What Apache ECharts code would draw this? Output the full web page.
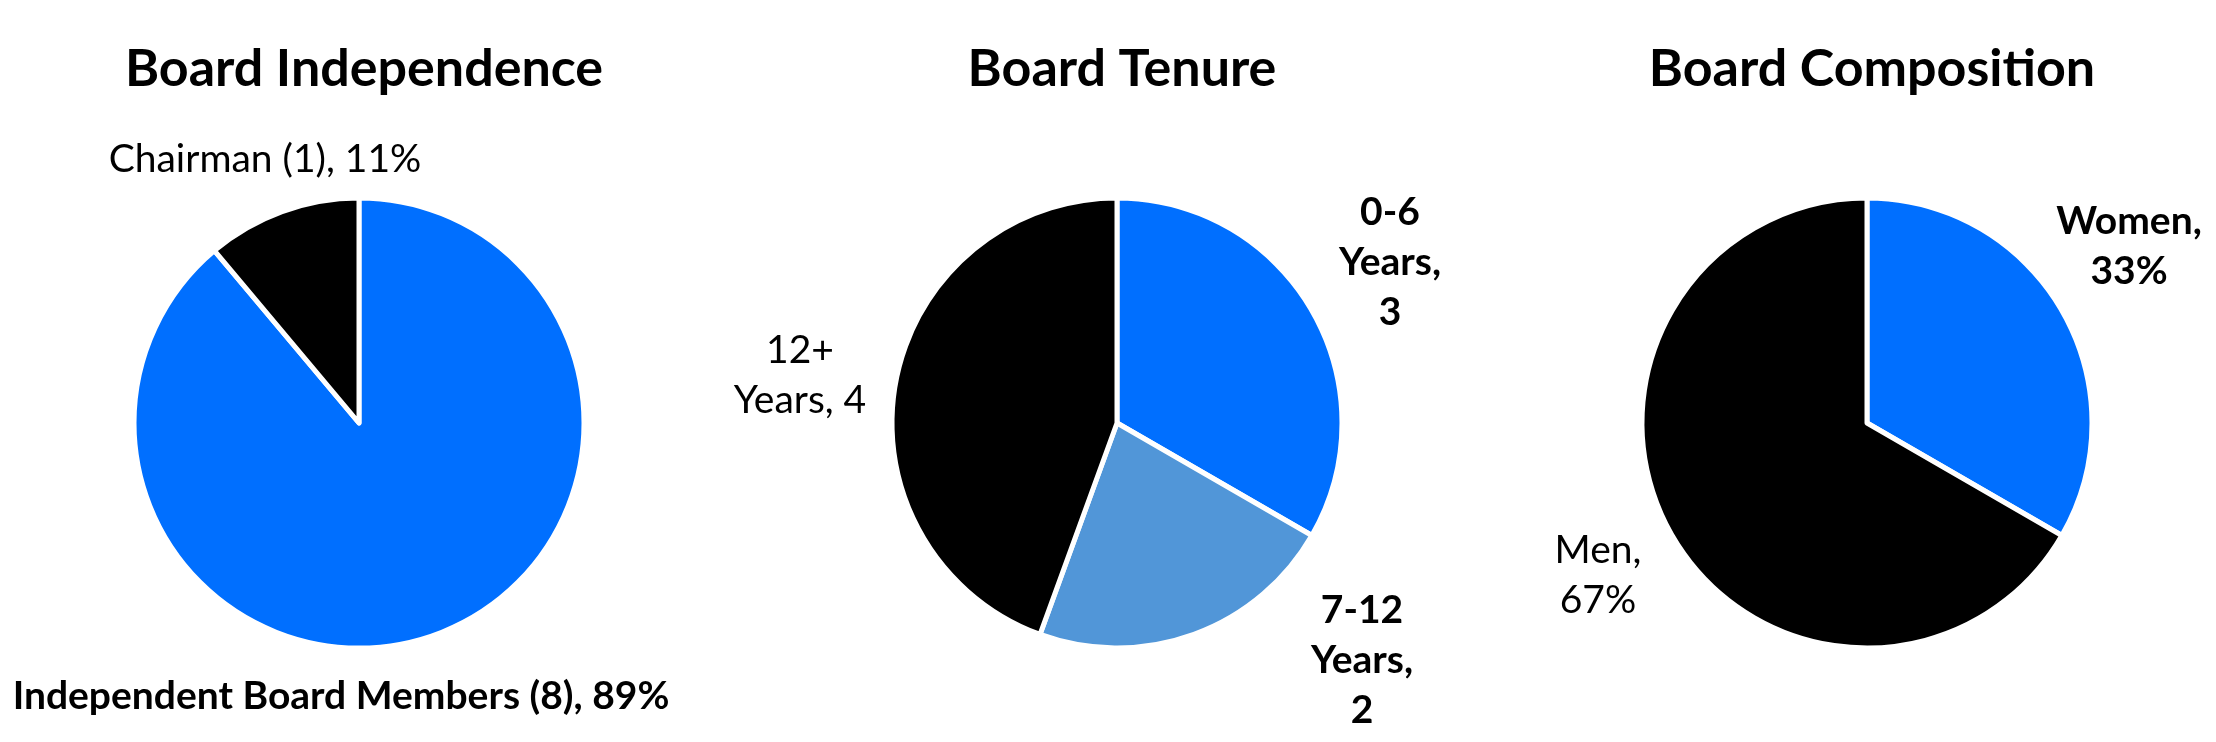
<!DOCTYPE html>
<html>
<head>
<meta charset="utf-8">
<title>Board</title>
<script src="https://cdn.jsdelivr.net/npm/echarts@6/dist/echarts.min.js"></script>
<style>
    html, body { margin: 0; padding: 0; background: #fff; }
    #chart { width: 2216px; height: 742px; }
</style>
</head>
<body>
<div id="chart"></div>
<script>
    // 数据
    var chartTitles = ['Board Independence', 'Board Tenure', 'Board Composition'];

    var independenceNames = ['Independent Board Members (8)', 'Chairman (1)'];
    var independenceValues = [8, 1];

    var tenureNames = ['0-6 Years', '7-12 Years', '12+ Years'];
    var tenureValues = [3, 2, 4];

    var compositionNames = ['Women', 'Men'];
    var compositionValues = [3, 6];

    var BLUE = '#006fff';
    var LIGHT_BLUE = '#5196d8';
    var BLACK = '#000000';
    var FONT = 'Lato';

    // label 中心点位置（每个饼图各一组）
    var labelPos = [
        [[341, 696], [265, 159]],
        [[1390, 262], [1362, 660], [800, 375]],
        [[2129, 246], [1598, 575]]
    ];
    var centers = [[359, 423], [1117, 423], [1867, 423]];

    function makeData(names, values, colors, bolds) {
        return names.map(function (n, i) {
            return {
                name: n,
                value: values[i],
                itemStyle: { color: colors[i] },
                label: { fontWeight: bolds[i] ? 'bold' : 'normal' }
            };
        });
    }

    function pieSeries(idx, data, formatter) {
        return {
            type: 'pie',
            center: centers[idx],
            radius: 225,
            startAngle: 90,
            clockwise: true,
            percentPrecision: 0,
            silent: true,
            animation: false,
            itemStyle: { borderColor: '#fff', borderWidth: 5 },
            label: {
                show: true,
                position: 'outside',
                color: '#000',
                fontFamily: FONT,
                fontSize: 39,
                lineHeight: 50,
                align: 'center',
                overflow: 'none',
                formatter: formatter
            },
            labelLine: { show: false },
            labelLayout: function (params) {
                var p = labelPos[idx][params.dataIndex];
                return { x: p[0], y: p[1], align: 'center', verticalAlign: 'middle' };
            },
            data: data
        };
    }

    var myChart = echarts.init(document.getElementById('chart'));
    myChart.setOption({
        backgroundColor: '#fff',
        title: chartTitles.map(function (t, i) {
            return {
                text: t,
                left: centers[i][0],
                top: 38,
                textAlign: 'center',
                textStyle: { fontFamily: FONT, fontWeight: 'bold', fontSize: 52, color: '#000' }
            };
        }),
        series: [
            pieSeries(0,
                makeData(independenceNames, independenceValues, [BLUE, BLACK], [true, false]),
                function (p) { return p.name + ', ' + p.percent + '%'; }),
            pieSeries(1,
                makeData(tenureNames, tenureValues, [BLUE, LIGHT_BLUE, BLACK], [true, true, false]),
                function (p) {
                    var parts = p.name.split(' ');
                    if (p.dataIndex === 2) {
                        return parts[0] + '\n' + parts[1] + ', ' + p.value;
                    }
                    return parts[0] + '\n' + parts[1] + ',\n' + p.value;
                }),
            pieSeries(2,
                makeData(compositionNames, compositionValues, [BLUE, BLACK], [true, false]),
                function (p) { return p.name + ',\n' + p.percent + '%'; })
        ]
    });
    window.addEventListener('resize', function () { myChart.resize(); });
</script>
</body>
</html>
